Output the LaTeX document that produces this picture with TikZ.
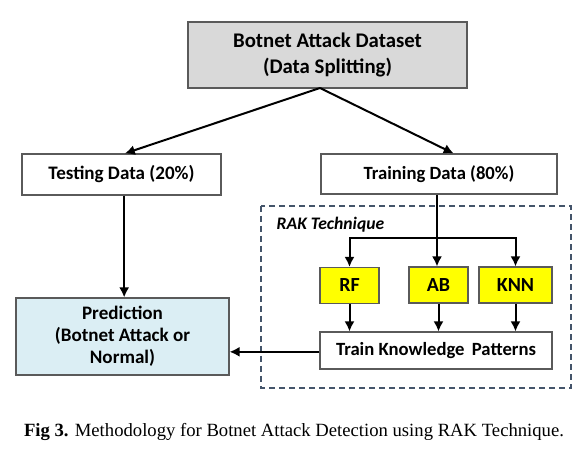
\documentclass[tikz,border=0pt]{standalone}
\usepackage{fontspec}
\setmainfont{Liberation Serif}
\newfontfamily\boxfont{Carlito}
\usepackage{tikz}
\usetikzlibrary{arrows.meta,positioning,calc}
\definecolor{dataC}{RGB}{217,217,217}
\definecolor{predC}{RGB}{219,238,244}
\definecolor{algoC}{RGB}{255,255,0}
\definecolor{frameC}{RGB}{68,84,106}
\definecolor{edgeC}{RGB}{90,90,90}

\tikzset{
  block/.style={draw=edgeC,line width=0.8pt,fill=white,align=center,
                font=\boxfont\bfseries,inner sep=0pt},
  algo/.style={block,fill=algoC,font=\boxfont\bfseries\fontsize{15}{17}\selectfont},
  arr/.style={-{Latex[length=7.5pt,width=7.5pt]},line width=1.5pt,black}
}

\begin{document}
\begin{tikzpicture}[x=0.75pt,y=-0.75pt]
  \useasboundingbox (0,0) rectangle (587,456);

  % Dataset and split
  \node[block,fill=dataC,minimum width=279*0.75pt,minimum height=66*0.75pt,
        font=\boxfont\bfseries\fontsize{15.6}{20}\selectfont]
    (data) at (327.5,55) {Botnet Attack Dataset\\(Data Splitting)};
  \node[block,minimum width=199*0.75pt,minimum height=41*0.75pt,
        font=\boxfont\bfseries\fontsize{14.3}{16}\selectfont]
    (test) at (121.5,174.5) {Testing Data (20\%)};
  \node[block,minimum width=236*0.75pt,minimum height=40*0.75pt,
        font=\boxfont\bfseries\fontsize{14}{16}\selectfont]
    (train) at (439,174) {Training Data (80\%)};

  % Prediction
  \node[block,fill=predC,minimum width=213*0.75pt,minimum height=77*0.75pt,
        font=\boxfont\bfseries\fontsize{14.3}{16.5}\selectfont]
    (pred) at (122.5,336.5) {Prediction\\(Botnet Attack or\\Normal)};

  % RAK technique frame
  \draw[frameC,dash pattern=on 4.5pt off 3pt,line width=0.8pt] (261,206) rectangle (571,388);
  \node[anchor=west,font=\boxfont\bfseries\itshape\fontsize{13.2}{15}\selectfont]
    (rak) at (272,225) {RAK Technique};

  \node[algo,minimum width=59*0.75pt,minimum height=36*0.75pt] (rf) at (349.5,285.5) {RF};
  \node[algo,minimum width=59*0.75pt,minimum height=36*0.75pt] (ab) at (438.5,285) {AB};
  \node[algo,minimum width=73*0.75pt,minimum height=36*0.75pt] (knn) at (515.5,285) {KNN};
  \node[block,minimum width=232*0.75pt,minimum height=37*0.75pt,
        font=\boxfont\bfseries\fontsize{14}{16}\selectfont]
    (tkp) at (436,350.5) {Train Knowledge\, Patterns};

  % Connectors
  \coordinate (split) at (320,88);
  \draw[arr] (split) -- ([xshift=2.5pt]test.north);
  \draw[arr] (split) -- ([xshift=11pt]train.north);
  \draw[arr] ([xshift=2pt]test.south) -- ([xshift=2pt]test.south |- pred.north);
  \coordinate (fork) at (437,238);
  \draw[line width=1.5pt] ([xshift=-1.5pt]train.south) -- (fork);
  \draw[arr] (fork) -- (fork |- ab.north);
  \draw[arr] (fork) -| (rf.north);
  \draw[arr] (fork) -| (knn.north);
  \foreach \n in {rf,ab,knn}
    \draw[arr] (\n.south) -- (\n.south |- tkp.north);
  \draw[arr] ([yshift=-1pt]tkp.west) -- ([yshift=-1pt]tkp.west -| pred.east);

  % Caption
  \node[font=\fontsize{14}{16}\selectfont] (cap) at (294,432)
    {\textbf{Fig 3.} Methodology for Botnet Attack Detection using RAK Technique.};
\end{tikzpicture}
\end{document}
